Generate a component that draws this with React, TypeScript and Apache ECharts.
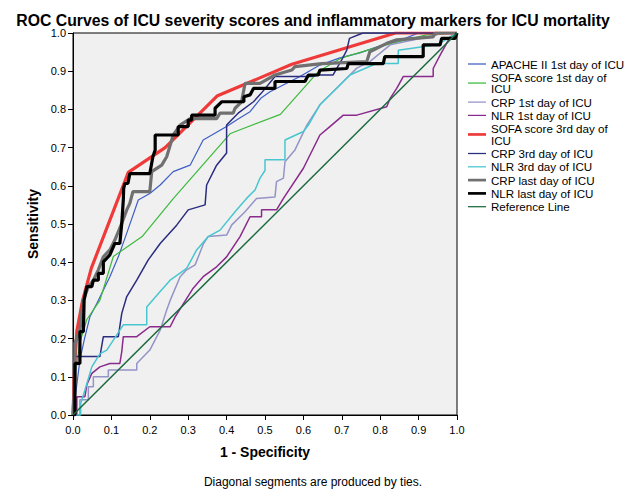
import React, { useEffect, useRef } from "react";
import * as echarts from "echarts";

const apache2Day1: number[][] = [
  [0, 0], [0.005, 0.04], [0.018, 0.144], [0.03, 0.2], [0.044, 0.257], [0.062, 0.292], [0.096, 0.362],
  [0.118, 0.414], [0.14, 0.476], [0.17, 0.563], [0.2, 0.58], [0.227, 0.602], [0.261, 0.637], [0.305, 0.654],
  [0.339, 0.72], [0.4, 0.755], [0.43, 0.775], [0.461, 0.794], [0.49, 0.83], [0.513, 0.846], [0.591, 0.886],
  [0.643, 0.916], [0.695, 0.935], [0.747, 0.948], [0.807, 0.969], [0.85, 0.98], [0.9, 1.0], [1, 1],
];

const sofaDay1: number[][] = [
  [0, 0], [0.005, 0.1], [0.018, 0.19], [0.036, 0.25], [0.07, 0.3], [0.105, 0.415], [0.18, 0.467],
  [0.26, 0.565], [0.41, 0.737], [0.54, 0.787], [0.64, 0.9], [0.7, 0.935], [0.8, 0.965], [0.92, 0.995], [1, 1],
];

const crpDay1: number[][] = [
  [0, 0], [0.018, 0], [0.018, 0.04], [0.04, 0.04], [0.04, 0.074], [0.053, 0.074], [0.053, 0.1],
  [0.092, 0.1], [0.092, 0.118], [0.166, 0.118], [0.166, 0.135], [0.2, 0.17], [0.227, 0.222],
  [0.244, 0.275], [0.253, 0.3], [0.279, 0.362], [0.296, 0.38], [0.318, 0.393], [0.34, 0.449],
  [0.352, 0.467], [0.4, 0.471], [0.413, 0.497], [0.448, 0.532], [0.478, 0.567], [0.526, 0.571],
  [0.53, 0.611], [0.548, 0.62], [0.552, 0.663], [0.578, 0.694], [0.609, 0.759], [0.643, 0.812],
  [0.695, 0.864], [0.739, 0.908], [0.773, 0.925], [0.826, 0.969], [0.947, 0.995], [0.96, 1.0], [1, 1],
];

const nlrDay1: number[][] = [
  [0, 0], [0.01, 0], [0.01, 0.048], [0.031, 0.048], [0.036, 0.079], [0.049, 0.109], [0.07, 0.126],
  [0.096, 0.135], [0.122, 0.135], [0.127, 0.166], [0.131, 0.205], [0.166, 0.205], [0.2, 0.231],
  [0.253, 0.231], [0.266, 0.257], [0.313, 0.332], [0.339, 0.362], [0.374, 0.388], [0.4, 0.414],
  [0.435, 0.467], [0.461, 0.519], [0.491, 0.519], [0.491, 0.537], [0.53, 0.537], [0.548, 0.567],
  [0.6, 0.646], [0.643, 0.733], [0.669, 0.755], [0.704, 0.785], [0.739, 0.785], [0.817, 0.807],
  [0.826, 0.829], [0.843, 0.855], [0.86, 0.886], [0.938, 0.886], [0.938, 0.907], [0.956, 0.942],
  [0.973, 0.973], [0.982, 0.99], [1, 1],
];

const sofaDay3: number[][] = [
  [0, 0], [0.004, 0.12], [0.01, 0.22], [0.025, 0.3], [0.048, 0.385], [0.144, 0.635], [0.24, 0.7],
  [0.375, 0.835], [0.57, 0.918], [0.84, 1.0], [1, 1],
];

const crpDay3: number[][] = [
  [0, 0], [0.005, 0], [0.005, 0.153], [0.07, 0.153], [0.079, 0.205], [0.118, 0.205], [0.127, 0.266],
  [0.14, 0.31], [0.166, 0.353], [0.196, 0.406], [0.227, 0.449], [0.27, 0.497], [0.3, 0.537],
  [0.344, 0.55], [0.348, 0.602], [0.374, 0.654], [0.4, 0.686], [0.4, 0.759], [0.43, 0.79],
  [0.47, 0.82], [0.49, 0.842], [0.526, 0.886], [0.62, 0.886], [0.64, 0.89], [0.677, 0.89],
  [0.7, 0.93], [0.713, 0.955], [0.72, 0.986], [0.755, 1.0], [1, 1],
];

const nlrDay3: number[][] = [
  [0, 0], [0.02, 0], [0.02, 0.03], [0.031, 0.065], [0.049, 0.126], [0.07, 0.16], [0.088, 0.17],
  [0.131, 0.236], [0.192, 0.236], [0.192, 0.283], [0.227, 0.323], [0.253, 0.353], [0.296, 0.384],
  [0.322, 0.432], [0.352, 0.467], [0.383, 0.484], [0.422, 0.532], [0.452, 0.567], [0.474, 0.589],
  [0.487, 0.62], [0.5, 0.64], [0.5, 0.668], [0.552, 0.668], [0.552, 0.72], [0.6, 0.742],
  [0.613, 0.759], [0.643, 0.812], [0.695, 0.864], [0.721, 0.89], [0.79, 0.92], [0.847, 0.92],
  [0.847, 0.955], [0.947, 0.969], [0.977, 0.986], [1, 1],
];

const crpLast: number[][] = [
  [0, 0], [0.005, 0.1], [0.005, 0.188], [0.018, 0.222], [0.027, 0.301], [0.04, 0.336], [0.053, 0.353],
  [0.066, 0.38], [0.079, 0.414], [0.096, 0.432], [0.109, 0.458], [0.127, 0.502], [0.14, 0.537],
  [0.148, 0.554], [0.156, 0.585], [0.2, 0.585], [0.205, 0.637], [0.231, 0.654], [0.244, 0.676],
  [0.261, 0.733], [0.279, 0.759], [0.305, 0.776], [0.374, 0.776], [0.383, 0.79], [0.417, 0.79],
  [0.422, 0.803], [0.439, 0.82], [0.448, 0.868], [0.487, 0.868], [0.526, 0.89], [0.57, 0.903],
  [0.578, 0.912], [0.648, 0.92], [0.765, 0.925], [0.773, 0.951], [0.817, 0.973], [0.843, 0.982],
  [0.938, 0.99], [0.943, 1.0], [1, 1],
];

const nlrLast: number[][] = [
  [0, 0], [0.005, 0], [0.005, 0.135], [0.018, 0.135], [0.018, 0.218], [0.027, 0.218], [0.029, 0.301],
  [0.036, 0.336], [0.049, 0.336], [0.053, 0.353], [0.066, 0.353], [0.066, 0.371], [0.079, 0.371],
  [0.079, 0.401], [0.096, 0.419], [0.109, 0.449], [0.122, 0.449], [0.127, 0.502], [0.131, 0.563],
  [0.132, 0.593], [0.135, 0.606], [0.143, 0.606], [0.148, 0.632], [0.2, 0.632], [0.204, 0.654],
  [0.208, 0.676], [0.214, 0.694], [0.214, 0.733], [0.274, 0.733], [0.274, 0.755], [0.3, 0.755],
  [0.3, 0.772], [0.309, 0.772], [0.309, 0.785], [0.37, 0.785], [0.37, 0.803], [0.387, 0.82],
  [0.445, 0.82], [0.445, 0.833], [0.461, 0.838], [0.47, 0.855], [0.526, 0.855], [0.526, 0.873],
  [0.604, 0.873], [0.613, 0.89], [0.639, 0.89], [0.643, 0.903], [0.713, 0.907], [0.717, 0.92],
  [0.808, 0.92], [0.812, 0.938], [0.912, 0.938], [0.912, 0.969], [0.956, 0.969], [0.96, 0.986],
  [0.995, 0.986], [1, 1],
];

const referenceLine: number[][] = [[0, 0], [1, 1]];

const seriesNames = [
  "APACHE II 1st day of ICU",
  "SOFA score 1st day of ICU",
  "CRP 1st day of ICU",
  "NLR 1st day of ICU",
  "SOFA score 3rd day of ICU",
  "CRP 3rd day of ICU",
  "NLR 3rd day of ICU",
  "CRP last day of ICU",
  "NLR last day of ICU",
  "Reference Line",
];
const seriesData = [apache2Day1, sofaDay1, crpDay1, nlrDay1, sofaDay3, crpDay3, nlrDay3, crpLast, nlrLast, referenceLine];
const seriesColors = ["#3d5ec6", "#3cba3c", "#9494c6", "#8a2a8c", "#ef3a3a", "#2a2c80", "#48c6cf", "#707070", "#000000", "#1b6a3f"];
const seriesWidths = [1.2, 1.2, 1.5, 1.5, 3.2, 1.5, 1.5, 3.2, 3.2, 1.5];

const axisTicks = [0, 0.1, 0.2, 0.3, 0.4, 0.5, 0.6, 0.7, 0.8, 0.9, 1.0];

const FONT = "'Liberation Sans', Arial, sans-serif";

export default function App() {
  const ref = useRef<HTMLDivElement>(null);
  useEffect(() => {
    if (!ref.current) return;
    const chart = echarts.init(ref.current, undefined, { renderer: "svg" });
    const wrapped: Record<string, string> = {
      "SOFA score 1st day of ICU": "SOFA score 1st day of\nICU",
      "SOFA score 3rd day of ICU": "SOFA score 3rd day of\nICU",
    };
    const axisCommon = {
      type: "value" as const,
      min: axisTicks[0],
      max: axisTicks[axisTicks.length - 1],
      interval: 0.1,
      axisLine: { show: true, lineStyle: { color: "#000", width: 1 } },
      axisTick: { show: true, inside: false, length: 5, lineStyle: { color: "#000" } },
      splitLine: { show: false },
      nameLocation: "middle" as const,
      nameTextStyle: { fontFamily: FONT, fontSize: 14, fontWeight: "bold" as const, color: "#000" },
    };
    chart.setOption({
      animation: false,
      backgroundColor: "#ffffff",
      textStyle: { fontFamily: FONT },
      title: {
        text: "ROC Curves of ICU severity scores and inflammatory markers for ICU mortality",
        left: "center",
        top: 7,
        textStyle: { fontFamily: FONT, fontSize: 15.8, fontWeight: "bold", color: "#000" },
      },
      grid: {
        left: 73,
        right: 169,
        top: 33,
        bottom: 86,
        show: true,
        backgroundColor: "#f0f0f0",
        borderColor: "#000",
        borderWidth: 1,
      },
      xAxis: {
        ...axisCommon,
        name: "1 - Specificity",
        nameGap: 30,
        axisLabel: { margin: 9, fontSize: 11, color: "#000", fontFamily: FONT, formatter: (v: number) => v.toFixed(1) },
      },
      yAxis: {
        ...axisCommon,
        name: "Sensitivity",
        nameGap: 31,
        axisLabel: { margin: 7, fontSize: 11, color: "#000", fontFamily: FONT, formatter: (v: number) => v.toFixed(1) },
      },
      legend: {
        orient: "vertical",
        left: 468,
        top: 58,
        padding: 0,
        itemGap: 1.3,
        itemWidth: 18,
        itemHeight: 8,
        symbolKeepAspect: true,
        data: seriesNames.map((name, i) => ({
          name,
          icon: seriesWidths[i] > 2 ? "path://M0,0h20v3h-20z" : "path://M0,0h20v1.4h-20z",
          itemStyle: { color: seriesColors[i] },
        })),
        formatter: (name: string) => wrapped[name] || name,
        textStyle: { fontFamily: FONT, fontSize: 11.6, color: "#000", lineHeight: 11.5 },
      },
      graphic: [
        {
          type: "text",
          left: "center",
          top: 476,
          style: { text: "Diagonal segments are produced by ties.", font: `12px ${FONT}`, fill: "#000" },
        },
      ],
      series: seriesNames.map((name, i) => ({
        name,
        type: "line",
        data: seriesData[i],
        showSymbol: false,
        symbol: "none",
        color: seriesColors[i],
        lineStyle: { color: seriesColors[i], width: seriesWidths[i] },
        z: 2 + i,
      })),
    });
    return () => chart.dispose();
  }, []);
  return <div ref={ref} style={{ position: "absolute", left: 0, top: 0, width: 626, height: 501 }} />;
}
